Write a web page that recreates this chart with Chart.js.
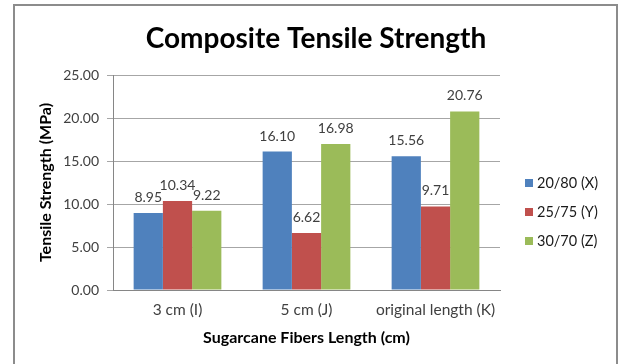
<!DOCTYPE html>
<html>
<head>
<meta charset="utf-8">
<script src="https://cdn.jsdelivr.net/npm/chart.js@4.4.1/dist/chart.umd.min.js"></script>
<style>
  html, body { margin: 0; padding: 0; background: #fff; }
  #myChart { display: block; }
</style>
</head>
<body>
<canvas id="myChart" width="624" height="364"></canvas>
<script>
// data
const categories = ["3 cm (I)", "5 cm (J)", "original length (K)"];
const seriesNames = ["20/80 (X)", "25/75 (Y)", "30/70 (Z)"];
const series2080 = [8.95, 16.10, 15.56];
const series2575 = [10.34, 6.62, 9.71];
const series3070 = [9.22, 16.98, 20.76];
const yTicks = [0, 5, 10, 15, 20, 25];
const chartTitle = "Composite Tensile Strength";

const colors = ["#4F81BD", "#C0504D", "#9BBB59"];
const FONT = "Lato, 'Liberation Sans', sans-serif";

// outer frame + title (excel centres the title on the whole chart, not the plot)
const framePlugin = {
    id: "frame",
    beforeDraw(chart) {
        const ctx = chart.ctx;
        ctx.save();
        ctx.fillStyle = "#fff";
        ctx.fillRect(0, 0, chart.width, chart.height);
        ctx.strokeStyle = "#8c8c8c";
        ctx.lineWidth = 2;
        ctx.strokeRect(14, 5, 603, 420);
        ctx.font = "bold 28px " + FONT;
        ctx.fillStyle = "#000";
        ctx.textAlign = "center";
        ctx.textBaseline = "alphabetic";
        ctx.fillText(chartTitle, 316, 48);
        ctx.restore();
    },
};

// value labels above each bar
const valueLabels = {
    id: "valueLabels",
    afterDatasetsDraw(chart) {
        const ctx = chart.ctx;
        ctx.save();
        ctx.font = "14px " + FONT;
        ctx.fillStyle = "#404040";
        ctx.textAlign = "center";
        ctx.textBaseline = "alphabetic";
        chart.data.datasets.forEach((ds, i) => {
            chart.getDatasetMeta(i).data.forEach((bar, j) => {
                ctx.fillText(ds.data[j].toFixed(2), bar.x, bar.y - 11);
            });
        });
        ctx.restore();
    },
};

// legend on the right, drawn by hand so it sits where excel put it
const sideLegend = {
    id: "sideLegend",
    afterDraw(chart) {
        const ctx = chart.ctx;
        ctx.save();
        ctx.font = "14.5px " + FONT;
        ctx.textBaseline = "middle";
        ctx.textAlign = "left";
        chart.data.datasets.forEach((ds, i) => {
            const y = 183 + i * 29;
            ctx.fillStyle = ds.backgroundColor;
            ctx.fillRect(525, y - 4, 8, 8);
            ctx.fillStyle = "#1a1a1a";
            ctx.fillText(ds.label, 537, y);
        });
        ctx.restore();
    },
};

const ctx = document.getElementById("myChart").getContext("2d");
new Chart(ctx, {
    type: "bar",
    data: {
        labels: categories,
        datasets: [
            { label: seriesNames[0], data: series2080, backgroundColor: colors[0] },
            { label: seriesNames[1], data: series2575, backgroundColor: colors[1] },
            { label: seriesNames[2], data: series3070, backgroundColor: colors[2] },
        ],
    },
    options: {
        responsive: false,
        animation: false,
        layout: { padding: { left: 30, right: 124, top: 75, bottom: 10 } },
        datasets: { bar: { categoryPercentage: 0.68, barPercentage: 1.0 } },
        plugins: {
            legend: { display: false },
            tooltip: { enabled: false },
            title: { display: false },
        },
        scales: {
            x: {
                afterFit(scale) { scale.height = 64; },
                grid: { display: false, drawTicks: false },
                border: { color: "#868686", width: 1 },
                ticks: {
                    color: "#404040",
                    font: { family: FONT, size: 15.5 },
                    padding: 11,
                    maxRotation: 0,
                },
                title: {
                    display: true,
                    text: "Sugarcane Fibers Length (cm)",
                    color: "#000",
                    font: { family: FONT, size: 16, weight: "bold" },
                    padding: { top: 6, bottom: 7 },
                },
            },
            y: {
                min: yTicks[0],
                max: yTicks[yTicks.length - 1],
                afterFit(scale) { scale.width = 83; },
                afterBuildTicks(scale) { scale.ticks = yTicks.map(v => ({ value: v })); },
                grid: { color: "#a6a6a6", tickLength: 6, drawTicks: true },
                border: { color: "#868686", width: 1 },
                ticks: {
                    color: "#404040",
                    font: { family: FONT, size: 14 },
                    padding: 8,
                    callback: v => Number(v).toFixed(2),
                },
                title: {
                    display: true,
                    text: "Tensile Strength (MPa)",
                    color: "#000",
                    font: { family: FONT, size: 16, weight: "bold" },
                    padding: { top: 6, bottom: 4 },
                },
            },
        },
    },
    plugins: [framePlugin, valueLabels, sideLegend],
});
</script>
</body>
</html>
